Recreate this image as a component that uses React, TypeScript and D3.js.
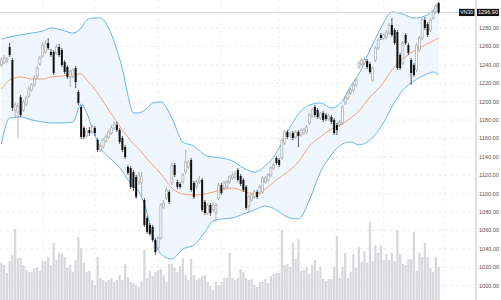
import React from 'react';
import * as d3 from 'd3';

const W = 501;
const H = 300;

const symbol = 'VN30';
const lastPrice = 1296.9;

const opens = [1239.8,1243.0,1244.1,1259.3,1245.2,1190.9,1188.7,1205.0,1190.9,1197.4,1206.1,1212.6,1218.1,1226.9,1240.9,1249.6,1253.9,1263.7,1253.9,1253.9,1252.8,1259.3,1256.1,1243.0,1237.6,1226.9,1227.8,1236.5,1210.5,1194.2,1171.4,1162.7,1169.2,1167.0,1171.4,1158.3,1147.5,1150.7,1157.2,1161.6,1165.9,1171.4,1174.6,1169.2,1160.5,1150.7,1129.0,1127.9,1123.5,1118.1,1112.7,1111.6,1093.1,1073.6,1066.0,1063.8,1049.7,1041.0,1051.8,1085.5,1095.3,1101.8,1111.6,1131.2,1112.7,1110.5,1112.7,1123.5,1129.0,1136.6,1111.6,1107.3,1112.7,1114.9,1091.0,1079.0,1087.7,1082.3,1079.0,1095.3,1109.4,1106.2,1107.3,1112.7,1117.0,1118.1,1125.7,1119.2,1114.9,1107.3,1086.6,1093.1,1096.4,1101.8,1100.7,1101.8,1112.7,1114.9,1120.3,1127.9,1138.8,1136.6,1138.8,1155.1,1167.0,1162.7,1165.9,1161.6,1167.0,1163.8,1165.9,1167.0,1176.8,1184.4,1194.2,1190.9,1182.2,1187.7,1185.5,1181.1,1183.3,1180.1,1174.6,1174.6,1176.8,1198.5,1203.9,1209.4,1212.6,1218.1,1237.6,1240.9,1242.0,1244.1,1240.9,1223.5,1245.2,1258.3,1272.4,1269.1,1270.2,1274.5,1283.2,1277.8,1275.6,1250.7,1242.0,1272.4,1261.5,1245.2,1239.8,1234.4,1256.1,1269.1,1288.7,1284.3,1277.8,1290.8,1297.4,1307.1];
const highs = [1248.5,1250.7,1248.5,1263.7,1247.4,1199.6,1198.5,1207.2,1201.8,1206.1,1217.0,1220.2,1228.9,1238.7,1249.6,1264.8,1266.9,1269.1,1257.2,1256.1,1262.6,1262.6,1258.3,1245.2,1239.8,1234.4,1236.5,1238.7,1212.6,1196.3,1173.5,1171.4,1172.4,1175.7,1173.5,1160.5,1155.1,1160.5,1164.8,1170.3,1174.6,1179.0,1177.9,1171.4,1162.7,1152.9,1131.2,1130.1,1125.7,1120.3,1123.5,1123.5,1095.3,1075.7,1068.1,1066.0,1051.8,1054.0,1089.9,1093.1,1106.2,1104.0,1134.4,1133.3,1114.9,1112.7,1122.5,1147.5,1136.6,1138.8,1113.8,1114.9,1119.2,1117.0,1093.1,1089.9,1089.9,1091.0,1089.9,1111.6,1111.6,1113.8,1114.9,1120.3,1123.5,1124.6,1127.9,1121.4,1117.0,1109.4,1098.6,1100.7,1104.0,1104.0,1109.4,1119.2,1119.2,1122.5,1130.1,1133.3,1140.9,1138.8,1160.5,1169.2,1169.2,1167.0,1168.1,1169.2,1169.2,1171.4,1171.4,1174.6,1187.7,1193.1,1196.3,1193.1,1188.7,1189.8,1187.7,1186.6,1185.5,1182.2,1176.8,1180.1,1196.3,1206.1,1211.5,1214.8,1220.2,1225.7,1244.1,1247.4,1248.5,1246.3,1243.0,1238.7,1260.4,1269.1,1274.5,1274.5,1277.8,1285.4,1290.8,1280.0,1277.8,1252.8,1265.9,1274.5,1263.7,1247.4,1242.0,1263.7,1271.3,1290.8,1291.9,1286.5,1290.8,1299.5,1306.1,1308.2];
const lows = [1237.6,1240.9,1242.0,1248.5,1189.8,1182.2,1160.5,1183.3,1188.7,1195.2,1203.9,1210.5,1215.9,1224.6,1238.7,1247.4,1251.7,1256.1,1248.5,1228.9,1250.7,1248.5,1237.6,1230.0,1224.6,1215.9,1225.7,1214.8,1196.3,1159.4,1159.4,1160.5,1162.7,1164.8,1162.7,1145.3,1145.3,1148.5,1155.1,1159.4,1163.8,1169.2,1167.0,1154.0,1145.3,1137.7,1120.3,1105.1,1102.9,1094.2,1109.4,1096.4,1063.8,1056.2,1054.0,1047.5,1033.4,1038.8,1049.7,1083.3,1093.1,1088.8,1109.4,1118.1,1105.1,1105.1,1110.5,1121.4,1126.8,1101.8,1094.2,1105.1,1110.5,1080.1,1076.8,1076.8,1075.7,1080.1,1069.2,1093.1,1098.6,1104.0,1105.1,1110.5,1114.9,1115.9,1112.7,1108.4,1101.8,1082.3,1079.0,1091.0,1094.2,1094.2,1098.6,1099.6,1110.5,1112.7,1118.1,1125.7,1131.2,1129.0,1136.6,1152.9,1159.4,1160.5,1158.3,1159.4,1150.7,1161.6,1163.8,1164.8,1174.6,1182.2,1183.3,1181.1,1180.1,1177.9,1179.0,1179.0,1175.7,1163.8,1163.8,1172.4,1174.6,1196.3,1201.8,1207.2,1210.5,1215.9,1235.4,1238.7,1239.8,1235.4,1230.0,1221.3,1243.0,1256.1,1266.9,1266.9,1268.0,1272.4,1270.2,1261.5,1234.4,1234.4,1239.8,1261.5,1250.7,1218.1,1226.9,1232.2,1253.9,1266.9,1277.8,1270.2,1275.6,1288.7,1295.2,1295.2];
const closes = [1245.2,1247.4,1246.3,1250.7,1193.1,1196.3,1195.2,1185.5,1199.6,1203.9,1213.7,1218.1,1225.7,1236.5,1247.4,1261.5,1262.6,1258.3,1250.7,1231.1,1259.3,1250.7,1239.8,1232.2,1226.9,1232.2,1234.4,1221.3,1198.5,1161.6,1161.6,1168.1,1165.9,1172.4,1165.9,1147.5,1151.8,1158.3,1161.6,1167.0,1171.4,1175.7,1169.2,1156.1,1147.5,1139.8,1122.5,1107.3,1106.2,1096.4,1120.3,1118.1,1066.0,1058.4,1056.2,1049.7,1036.6,1051.8,1087.7,1089.9,1104.0,1091.0,1131.2,1120.3,1107.3,1107.3,1120.3,1134.4,1134.4,1104.0,1096.4,1112.7,1114.9,1082.3,1079.0,1087.7,1079.0,1087.7,1087.7,1109.4,1100.7,1111.6,1112.7,1118.1,1120.3,1121.4,1114.9,1110.5,1104.0,1084.4,1096.4,1098.6,1101.8,1096.4,1107.3,1117.0,1117.0,1120.3,1127.9,1131.2,1133.3,1131.2,1158.3,1167.0,1161.6,1164.8,1160.5,1167.0,1162.7,1169.2,1169.2,1172.4,1185.5,1190.9,1185.5,1183.3,1186.6,1180.1,1181.1,1184.4,1177.9,1165.9,1169.2,1177.9,1194.2,1203.9,1209.4,1212.6,1218.1,1223.5,1242.0,1245.2,1245.2,1237.6,1232.2,1236.5,1258.3,1266.9,1269.1,1272.4,1275.6,1283.2,1272.4,1263.7,1236.5,1236.5,1263.7,1263.7,1252.8,1231.1,1228.9,1261.5,1269.1,1288.7,1280.0,1272.4,1288.7,1297.4,1303.9,1296.9];
const volumes = [148,140,108,156,180,284,168,168,140,120,112,112,128,128,116,156,156,172,140,228,160,188,184,172,128,140,112,160,252,208,148,112,116,80,60,172,88,80,72,80,88,72,80,100,80,144,92,72,68,60,52,76,200,88,116,96,112,120,124,100,72,144,144,128,112,136,168,100,80,164,100,80,88,96,100,72,56,40,72,60,72,88,88,188,88,80,88,124,112,88,80,84,60,52,72,72,84,68,96,104,108,108,280,140,144,132,228,164,244,116,120,132,104,140,160,116,132,84,76,84,84,132,256,88,132,188,88,112,184,128,212,152,196,148,312,156,220,188,220,160,184,160,188,156,280,184,144,140,164,164,272,116,188,172,228,172,128,112,172,132];

const bandIdx = [0,3,7,11,15,18,22,26,29,31,33,36,39,42,44,46,48,50,53,55,58,62,66,70,74,77,80,84,88,92,96,100,104,108,112,116,120,124,127,130,134,138,142,146,150,154,157,159];
const bandUpper = [1268.0,1270.2,1272.4,1274.5,1276.7,1280.0,1277.8,1274.5,1280.0,1288.7,1290.8,1290.8,1280.0,1256.1,1235.4,1207.2,1187.7,1187.7,1193.1,1198.5,1199.6,1182.2,1156.1,1151.8,1142.0,1139.8,1138.8,1135.5,1127.9,1123.5,1130.1,1144.2,1167.0,1186.6,1196.3,1198.5,1193.1,1200.7,1217.0,1230.0,1256.1,1280.0,1297.4,1295.2,1290.8,1293.0,1299.5,1307.1];
const bandMiddle = [1213.7,1223.5,1226.8,1224.6,1224.6,1226.8,1227.8,1230.0,1230.0,1223.5,1217.0,1205.0,1190.9,1177.9,1169.2,1161.6,1154.0,1148.5,1137.7,1131.2,1121.4,1106.2,1099.6,1098.6,1099.6,1101.8,1104.0,1106.2,1102.9,1099.6,1105.1,1114.9,1123.5,1134.4,1151.8,1161.6,1170.3,1175.7,1182.2,1189.8,1205.0,1217.0,1234.4,1246.3,1255.0,1261.5,1265.9,1269.1];
const bandLower = [1154.0,1182.2,1183.3,1180.1,1177.9,1176.8,1176.8,1177.9,1197.4,1187.7,1171.4,1149.6,1139.8,1131.2,1124.6,1114.9,1108.4,1101.8,1079.0,1054.0,1034.5,1029.0,1039.9,1044.2,1058.4,1070.3,1072.5,1073.6,1077.9,1082.3,1086.6,1082.3,1074.6,1072.5,1093.1,1123.5,1142.0,1154.0,1156.1,1152.9,1158.3,1172.4,1194.2,1212.6,1222.4,1228.9,1232.2,1228.9];

const priceTicks = [1000,1020,1040,1060,1080,1100,1120,1140,1160,1180,1200,1220,1240,1260,1280];
const monthGridIdx = [15, 34, 57, 80, 101, 122, 139, 161];

const FONT = "'Liberation Sans', Arial, sans-serif";

export default function App() {
  const n = closes.length;
  const x = d3.scaleLinear().domain([0, n - 1]).range([1.4, 1.4 + 2.75 * (n - 1)]);
  const y = d3.scaleLinear().domain([1000, 1280]).range([285.7, 28]);
  const yv = d3.scaleLinear().domain([0, 400]).range([H, 200]);
  const axisX = 476;
  const bodyW = 2.0;
  const volW = 2.2;
  const fmt = d3.format('.2f');

  const band = bandIdx.map((b, k) => ({ i: b, u: bandUpper[k], m: bandMiddle[k], l: bandLower[k] }));
  const area = d3.area<any>().x(d => x(d.i)).y0(d => y(d.l)).y1(d => y(d.u)).curve(d3.curveMonotoneX);
  const lineU = d3.line<any>().x(d => x(d.i)).y(d => y(d.u)).curve(d3.curveMonotoneX);
  const lineM = d3.line<any>().x(d => x(d.i)).y(d => y(d.m)).curve(d3.curveMonotoneX);
  const lineL = d3.line<any>().x(d => x(d.i)).y(d => y(d.l)).curve(d3.curveMonotoneX);

  const lastY = y(lastPrice);

  return (
    <svg width={W} height={H} style={{ position: 'absolute', left: 0, top: 0, background: '#fff' }}>
      <rect x={0} y={0} width={W} height={H} fill="#fff" />
      {/* grid */}
      {priceTicks.map(t => (
        <line key={'h' + t} x1={0} x2={axisX - 2} y1={y(t)} y2={y(t)} stroke="#e6e7ea" strokeWidth={0.8} strokeDasharray="3,3" />
      ))}
      {monthGridIdx.map(m => (
        <line key={'v' + m} x1={x(m)} x2={x(m)} y1={0} y2={H} stroke="#eceef1" strokeWidth={0.8} strokeDasharray="3,3" />
      ))}
      {/* volume */}
      {volumes.map((v, i) => (
        <rect key={'vol' + i} x={x(i) - volW / 2} y={yv(v)} width={volW} height={H - yv(v)} fill="#d7d8dc" />
      ))}
      {/* bollinger */}
      <path d={area(band) || ''} fill="#e9f3fd" fillOpacity={0.75} />
      <path d={lineU(band) || ''} fill="none" stroke="#6db3f2" strokeWidth={1} />
      <path d={lineL(band) || ''} fill="none" stroke="#6db3f2" strokeWidth={1} />
      <path d={lineM(band) || ''} fill="none" stroke="#f5a56e" strokeWidth={1} />
      {/* last price line */}
      <line x1={0} x2={459} y1={lastY} y2={lastY} stroke="#cfcfcf" strokeWidth={0.8} />
      {/* candles */}
      {closes.map((c, i) => {
        const o = opens[i];
        const up = c >= o;
        const top = y(Math.max(o, c));
        const bot = y(Math.min(o, c));
        const h = Math.max(0.8, bot - top);
        const col = up ? '#9a9a9a' : '#111';
        return (
          <g key={'c' + i}>
            <line x1={x(i)} x2={x(i)} y1={y(highs[i])} y2={y(lows[i])} stroke={col} strokeWidth={0.7} />
            <rect x={x(i) - bodyW / 2} y={top} width={bodyW} height={h} fill={up ? '#fff' : '#111'} stroke={col} strokeWidth={up ? 0.6 : 0} />
          </g>
        );
      })}
      {/* axis */}
      <rect x={axisX} y={0} width={W - axisX} height={H} fill="#fff" />
      <line x1={axisX} x2={axisX} y1={0} y2={H} stroke="#d6d6d6" strokeWidth={1.5} />
      {priceTicks.map(t => (
        <text key={'t' + t} x={479} y={y(t)} dy="0.35em" fontSize={5.6} fill="#555" fontFamily={FONT}>{fmt(t)}</text>
      ))}
      <rect x={459} y={lastY - 3.6} width={15.5} height={7.2} fill="#111" />
      <text x={466.7} y={lastY} dy="0.35em" textAnchor="middle" fontSize={5.2} fill="#fff" fontFamily={FONT}>{symbol}</text>
      <rect x={477} y={lastY - 3.6} width={22} height={7.2} fill="#111" />
      <text x={488} y={lastY} dy="0.35em" textAnchor="middle" fontSize={5.6} fill="#fff" fontFamily={FONT}>{fmt(lastPrice)}</text>
    </svg>
  );
}
